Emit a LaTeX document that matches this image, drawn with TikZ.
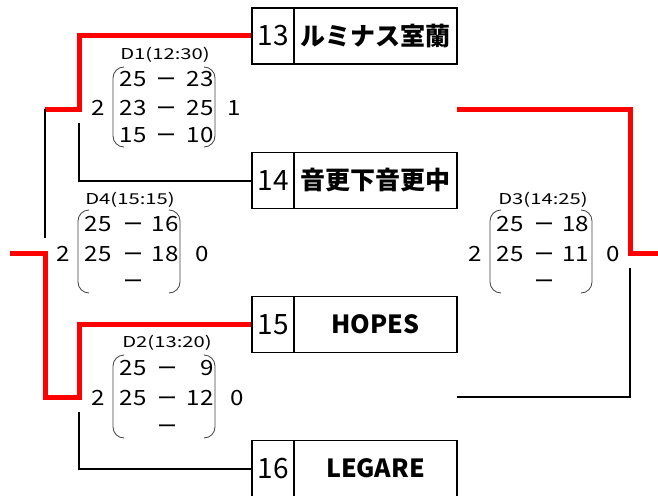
\documentclass[tikz,border=0pt]{standalone}
\usepackage{fontspec}
\setmainfont{Noto Sans CJK JP}
\newfontfamily\ptfont[FakeStretch=1.15]{Noto Sans CJK JP}
\newfontfamily\lblfont[FakeStretch=1.35]{Noto Sans CJK JP}
\tikzset{
  numbox/.style={draw, line width=1.6pt, minimum width=42pt, minimum height=56pt, inner sep=0pt,
    font=\fontsize{28}{28}\selectfont},
  namebox/.style={draw, line width=1.6pt, minimum width=163pt, minimum height=56pt, inner sep=0pt,
    font=\fontsize{25}{25}\selectfont\bfseries},
  win/.style={draw=red, line width=5pt},
  lose/.style={draw=black, line width=2pt},
  paren/.style={draw=black!75, line width=0.8pt, rounded corners=11pt},
  pt/.style={inner sep=0pt, anchor=base, font=\fontsize{21}{21}\ptfont},
  ptr/.style={pt, anchor=base east},
  bar/.style={inner sep=0pt, anchor=base, font=\fontsize{20}{20}\selectfont},
  lbl/.style={inner sep=0pt, font=\fontsize{15}{15}\lblfont}
}
\begin{document}
\begin{tikzpicture}[x=1pt, y=-1pt]
    \useasboundingbox (0,0) rectangle (658,495);

    % Teams
    \node[numbox] (n13) at (273,36) {13};
    \node[namebox] (t13) at (375.5,36) {ルミナス室蘭};
    \node[numbox] (n14) at (273,180.5) {14};
    \node[namebox] (t14) at (375.5,180.5) {音更下音更中};
    \node[numbox] (n15) at (273,324.5) {15};
    \node[namebox] (t15) at (375.5,324.5) {HOPES};
    \node[numbox] (n16) at (273,468.5) {16};
    \node[namebox] (t16) at (375.5,468.5) {LEGARE};

    % Lines
    \coordinate (d1a) at (79,109);
    \coordinate (d1w) at (45,109);
    \coordinate (d1b) at (79,123);
    \coordinate (d4b) at (45,238);
    \coordinate (d4w) at (10,253);
    \coordinate (d2a) at (79,397);
    \coordinate (d2w) at (45,397);
    \coordinate (d2b) at (79,412);
    \coordinate (d3t) at (457,109);
    \coordinate (d3a) at (630,253);
    \coordinate (d3e) at (658,253);
    \coordinate (d3u) at (457,397);
    \coordinate (d3b) at (630,268);

    \draw[win] (n13.west) -| (d1a) -- (d1w);
    \draw[lose] (n14.west) -| (d1b);
    \draw[lose] (d1w) -- (d4b);
    \draw[win] (n15.west) -| (d2a) -- (d2w) |- (d4w);
    \draw[lose] (n16.west) -| (d2b);
    \draw[win] (d3t) -| (d3a) -- (d3e);
    \draw[lose] (d3u) -| (d3b);

    % Match D1
    \node[lbl] (d1) at (165,55) {D1(12:30)};
    \draw[paren] (124,67) -- (113,67) -- (113,147) -- (124,147);
    \draw[paren] (204,67) -- (215,67) -- (215,147) -- (204,147);
    \node[pt] (d1l) at (98,115.5) {2};
    \node[pt] (d1r) at (234,115.5) {1};
    \node[pt] (d1a1) at (133,86) {25};
    \node[bar] (d1m1) at (166,86) {ー};
    \node[ptr] (d1b1) at (214,86) {23};
    \node[pt] (d1a2) at (133,115) {23};
    \node[bar] (d1m2) at (166,115) {ー};
    \node[ptr] (d1b2) at (214,115) {25};
    \node[pt] (d1a3) at (133,142) {15};
    \node[bar] (d1m3) at (166,142) {ー};
    \node[ptr] (d1b3) at (214,142) {10};

    % Match D4
    \node[lbl] (d4) at (130,200) {D4(15:15)};
    \draw[paren] (89,210) -- (78,210) -- (78,293) -- (89,293);
    \draw[paren] (169,210) -- (180,210) -- (180,293) -- (169,293);
    \node[pt] (d4l) at (63,261) {2};
    \node[pt] (d4r) at (202,261) {0};
    \node[pt] (d4a1) at (98,231.5) {25};
    \node[bar] (d4m1) at (133,231.5) {ー};
    \node[ptr] (d4b1) at (179,231.5) {16};
    \node[pt] (d4a2) at (98,261) {25};
    \node[bar] (d4m2) at (133,261) {ー};
    \node[ptr] (d4b2) at (179,261) {18};
    \node[bar] (d4m3) at (133,288) {ー};

    % Match D2
    \node[lbl] (d2) at (167,343) {D2(13:20)};
    \draw[paren] (124,355) -- (113,355) -- (113,438) -- (124,438);
    \draw[paren] (204,355) -- (215,355) -- (215,438) -- (204,438);
    \node[pt] (d2l) at (98,405) {2};
    \node[pt] (d2r) at (237,405) {0};
    \node[pt] (d2a1) at (133,375) {25};
    \node[bar] (d2m1) at (167,375) {ー};
    \node[ptr] (d2b1) at (214,375) {9};
    \node[pt] (d2a2) at (133,405) {25};
    \node[bar] (d2m2) at (167,405) {ー};
    \node[ptr] (d2b2) at (214,405) {12};
    \node[bar] (d2m3) at (167,433) {ー};

    % Match D3
    \node[lbl] (d3) at (543,200) {D3(14:25)};
    \draw[paren] (501,210) -- (490,210) -- (490,293) -- (501,293);
    \draw[paren] (581,210) -- (592,210) -- (592,293) -- (581,293);
    \node[pt] (d3l) at (475,261) {2};
    \node[pt] (d3r) at (613,261) {0};
    \node[pt] (d3a1) at (510,231.5) {25};
    \node[bar] (d3m1) at (544,231.5) {ー};
    \node[ptr] (d3b1) at (589,231.5) {18};
    \node[pt] (d3a2) at (510,261) {25};
    \node[bar] (d3m2) at (544,261) {ー};
    \node[ptr] (d3b2) at (589,261) {11};
    \node[bar] (d3m3) at (544,288) {ー};

\end{tikzpicture}
\end{document}
